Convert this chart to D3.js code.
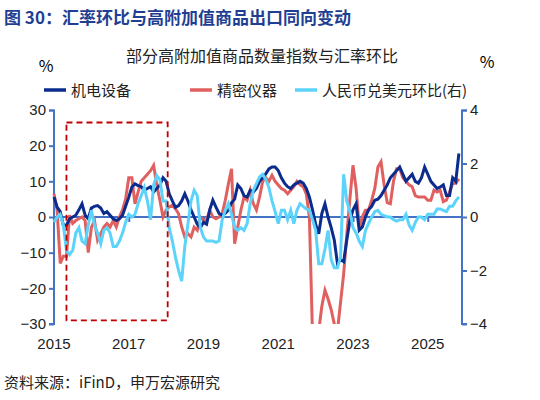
<!DOCTYPE html>
<html><head><meta charset="utf-8">
<script src="https://cdn.jsdelivr.net/npm/d3@7"></script>
<style>body{margin:0;background:#fff;font-family:"Noto Sans CJK SC",sans-serif;}</style>
</head><body>
<script>
// monthly, 2015-01 .. 2025-11
var jd = [5.6, 2.8, 1.5, -2.3, -2.3, -0.5, 0, 0.5, 2, 3.7, 0.5, -0.5,
  2.5, 3, 3.2, 2.5, 1, 1.5, 0.5, -0.5, -1, -0.5, 0.5, 3,
  5.5, 8.4, 9.3, 8.8, 8.5, 7.5, 8, 8.5, 7, 8, 9, 11,
  10, 6.5, 4.5, 2.7, 3.2, 4.5, 6.5, 4.5, 2, 0, -2, -3,
  -1.5, -2, 2, 4.7, 2.8, 1, 0.5, 1, 2, 4, 5, 9,
  8, 6, 5.6, 7.5, 7, 8, 10, 11, 12.1, 13.5, 14, 14,
  13, 11, 9.5, 8.5, 8, 9, 9.5, 10, 9.5, 8, 5.6, 2,
  -2, -4.7, 1, 3.7, 0, -3, -6.5, -13, -12, -12.5, -6.5, -1,
  2, 3.7, -3.7, -2.8, 0, 2, 3, 4.7, 5, 6, 7.5, 9,
  11, 12, 13, 14, 12, 10, 11, 12, 10, 9.5, 11, 14,
  12, 10, 9, 8, 8.4, 9, 6, 6, 11, 10, 17.8];
var jm = [6.5, 2, -13, -11, -11, 0.5, -1.8, -1, -0.5, 0, -1, -10,
  -3, -1, -6.5, -4.7, -2.8, -1.8, -2.8, -1, -2.8, 0, 2, 5,
  11, 11, 3.7, 7, 10, 11, 12, 13, 14.5, 9, 4.7, 0,
  1.9, 2.8, 3.3, 2.3, 0.9, -2.8, -5.6, -4.7, -5.6, -2.8, -3.7, 0,
  -0.9, -0.9, 1.9, 0, -0.5, 0, 1, 4.7, 9.3, 13.5, -7.5, -2.8,
  1.9, 5.6, 4.7, 7.5, 3.7, 2, 5.6, 10, 11, 10, 11.7, 10,
  9, 8, 7.5, 6.5, 7.5, 8.5, 10, 9, 8.5, 6.5, 0, -33,
  -38, -32, -25, -20.5, -23, -26, -30, -32, -24, -16, -5, 5,
  14.5, 8, -2.8, 0, 1.9, 2, 4.7, 8, 14, 15.5, 9, 4,
  3.7, 10, 13.5, 13.5, 11, 10, 9, 8.5, 6, 5.6, 5.6, 5.6,
  4.7, 4.7, 7.5, 7, 7.5, 4.3, 4.7, 7, 9.3, 9.5, 10.7];
var rmb = [-0.2, 0, 0.1, -0.3, -1.25, -1.4, -1.25, -0.6, -0.4, -0.9, -1.0, -0.3,
  0.25, -0.3, -0.6, -1.0, -0.5, -0.4, -0.6, -1.1, -1.1, -0.9, -0.6, -0.2,
  0.1, 0, 0.1, 0.5, 0.8, 1.1, 0.6, -0.1, 1.2, 1.55, 1.4, 0.6,
  0.6, -0.4, -0.9, -1.5, -2.0, -2.4, -1.1, -0.25, 0.6, 1.0, 0.8, -0.4,
  -0.75, -0.9, -0.9, -0.9, -0.95, -0.9, -0.1, 0.25, 0.5, 0.1, -0.4, -0.5,
  -0.4, -0.5, -0.25, 0.5, 1.0, 1.25, 1.5, 1.6, 1.4, 1.1, 0.6, 0.2,
  -0.25, 0.25, 0.25, -0.1, 0.25, -0.25, 0.25, 0.5, 0.4, 0.3, 0.25, -0.1,
  -0.5, -1.75, -1.75, -1.2, -0.5, -1.6, -1.9, -1.9, -1.5, 1.6, 0.6, 0.2,
  -0.4, -0.6, -0.9, -1.1, -0.5, -0.25, 0, 0.2, 0.25, 0.1, 0.05, 0,
  0, -0.1, -0.15, -0.1, -0.1, 0.1, -0.3, -0.5, -0.2, 0, 0, -0.1,
  0.1, 0.1, 0.1, 0.3, 0.3, 0.25, 0.2, 0.4, 0.4, 0.6, 0.75];
var yearTicks = [2015, 2017, 2019, 2021, 2023, 2025];
var leftTicks = [-30, -20, -10, 0, 10, 20, 30];
var rightTicks = [-4, -2, 0, 2, 4];
var seriesNames = ["机电设备", "精密仪器", "人民币兑美元环比(右)"];
var colors = ["#0b2c8c", "#e06060", "#5cd3fb"];
var axisColor = "#4472c4";

var W = 540, H = 400;
var svg = d3.select("body").append("svg").attr("width", W).attr("height", H);

var x = d3.scaleLinear().domain([0, 131]).range([54, 462]);
var yL = d3.scaleLinear().domain([-30, 30]).range([324, 110]);
var yR = d3.scaleLinear().domain([-4, 4]).range([324, 110]);
var mx = function (yr) { return x((yr - 2015) * 12); };

// title
svg.append("text").attr("x", 4).attr("y", 24).attr("font-size", 17).attr("font-weight", "bold")
  .attr("fill", "#1f3f93").text("图 30：汇率环比与高附加值商品出口同向变动");
svg.append("text").attr("x", 262).attr("y", 62).attr("text-anchor", "middle").attr("font-size", 16)
  .attr("fill", "#222").text("部分高附加值商品数量指数与汇率环比");
svg.append("text").attr("x", 46).attr("y", 72).attr("text-anchor", "middle").attr("font-size", 16).text("%");
svg.append("text").attr("x", 487).attr("y", 68).attr("text-anchor", "middle").attr("font-size", 16).text("%");

// legend
var lx = [44, 190, 295];
seriesNames.forEach(function (n, i) {
  svg.append("line").attr("x1", lx[i]).attr("x2", lx[i] + 22).attr("y1", 90).attr("y2", 90)
    .attr("stroke", colors[i]).attr("stroke-width", 3.5);
  svg.append("text").attr("x", lx[i] + 27).attr("y", 96).attr("font-size", 15).attr("fill", "#222").text(n);
});

// axes
var gL = svg.append("g").attr("transform", "translate(54,0)")
  .call(d3.axisLeft(yL).tickValues(leftTicks).tickSize(5));
var gR = svg.append("g").attr("transform", "translate(462,0)")
  .call(d3.axisRight(yR).tickValues(rightTicks).tickSize(5));
var gX = svg.append("g").attr("transform", "translate(0," + yL(0) + ")")
  .call(d3.axisBottom(d3.scaleLinear().domain([2015, 2015 + 131 / 12]).range([54, 462]))
    .tickValues(yearTicks).tickSize(5).tickFormat(""));
[gL, gR, gX].forEach(function (g) {
  g.selectAll("path,line").attr("stroke", axisColor).attr("stroke-width", 2);
  g.selectAll("text").attr("font-size", 15).attr("fill", "#222").attr("font-family", "Liberation Sans, Arial");
});
gX.select(".domain").attr("d", "M54,0H462");
gL.select(".domain").attr("d", "M-5,110.5H0V324H-5");
gR.select(".domain").attr("d", "M5,110.5H0V324H5");
svg.selectAll(".yr").data(yearTicks).enter().append("text")
  .attr("x", function (d) { return mx(d); }).attr("y", 349).attr("text-anchor", "middle")
  .attr("font-size", 15).attr("fill", "#222").attr("font-family", "Liberation Sans, Arial").text(function (d) { return d; });

// lines
svg.append("clipPath").attr("id", "c").append("rect")
  .attr("x", 40).attr("y", yL(30)).attr("width", 430).attr("height", yL(-30) - yL(30));
var lineL = d3.line().x(function (d, i) { return x(i); }).y(function (d) { return yL(d); });
var lineR = d3.line().x(function (d, i) { return x(i); }).y(function (d) { return yR(d); });
var plot = svg.append("g").attr("clip-path", "url(#c)");
plot.append("path").attr("d", lineL(jm)).attr("fill", "none").attr("stroke", colors[1]).attr("stroke-width", 3);
plot.append("path").attr("d", lineL(jd)).attr("fill", "none").attr("stroke", colors[0]).attr("stroke-width", 3);
plot.append("path").attr("d", lineR(rmb)).attr("fill", "none").attr("stroke", colors[2]).attr("stroke-width", 3);

// highlight box
svg.append("rect").attr("x", x(4)).attr("y", yL(26.5)).attr("width", x(36.5) - x(4))
  .attr("height", yL(-29) - yL(26.5)).attr("fill", "none").attr("stroke", "#c00000")
  .attr("stroke-width", 1.8).attr("stroke-dasharray", "6,4");

svg.append("text").attr("x", 4).attr("y", 388).attr("font-size", 15).attr("fill", "#222")
  .text("资料来源：iFinD，申万宏源研究");
</script>
</body></html>
